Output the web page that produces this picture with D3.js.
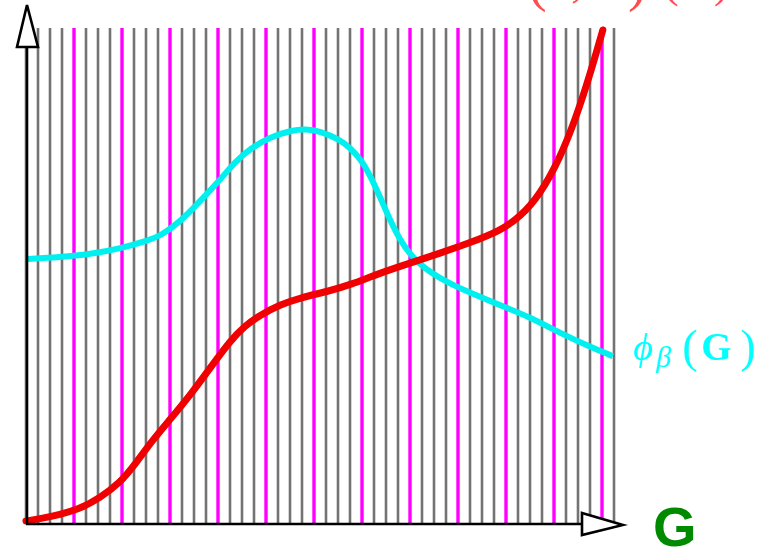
<!DOCTYPE html>
<html>
<head>
<meta charset="utf-8">
<script src="https://cdn.jsdelivr.net/npm/d3@7"></script>
<style>
  html, body { margin: 0; padding: 0; background: #fff; }
  svg { display: block; }
</style>
</head>
<body>
<svg id="chart" width="769" height="551"></svg>
<script>
// Vertical stripe grid: 50 stripes, every 4th one highlighted
const stripeCount = 50;
const accentEvery = 4;

// Rising curve (red)
const redX = [0, 4.1, 9.2, 12.6, 16, 18.7, 21.3, 24.7, 28.1, 31.3, 34.7, 37.2, 39.8, 43.2, 46.6, 51.7, 55.1, 60.2, 65.3, 70.4, 75.5, 80.6, 84, 87.4, 90.8, 93.4, 95.9, 98.1];
const redY = [0.4, 1.2, 2.8, 5.1, 8.1, 12.1, 16.4, 21.2, 26.1, 31.3, 36.8, 39.8, 42, 44.1, 45.5, 46.9, 48.1, 50.5, 52.5, 54.5, 56.6, 59, 61.8, 66.3, 73.7, 81.4, 90.5, 99.6];

// Bump-shaped curve phi_beta(G) (cyan)
const cyanX = [0, 5.8, 10.9, 16, 21.1, 22.8, 26.2, 29.6, 33, 35.5, 38.1, 41.5, 45.4, 47.4, 50, 53.4, 55.1, 56.8, 58.5, 60.2, 61.9, 63.6, 65.3, 67, 68.7, 72.1, 77.2, 80.6, 85.7, 90.8, 95.9, 99.8];
const cyanY = [53.3, 53.7, 54.3, 55.4, 57.2, 58, 60.8, 65, 69.3, 72.9, 75.6, 78, 79.4, 79.6, 79.2, 77.4, 75.8, 73.7, 70.3, 65.9, 61.2, 57.2, 54.3, 52.3, 50.7, 48.3, 45.7, 44, 41.6, 38.4, 35.6, 33.7];

const svg = d3.select("#chart");

const plotLeft = 26, plotRight = 614, plotTop = 28, plotBottom = 523;
const x = d3.scaleLinear().domain([0, 100]).range([plotLeft, plotRight]);
const y = d3.scaleLinear().domain([0, 100]).range([plotBottom, plotTop]);
const stripeX = d3.scaleLinear().domain([0, stripeCount - 1]).range([plotLeft, plotRight]);

// stripes
const stripes = d3.range(stripeCount);
const isAccent = d => d > 0 && d % accentEvery === 0;
svg.append("g").selectAll("line")
  .data(stripes)
  .join("line")
  .attr("x1", d => stripeX(d))
  .attr("x2", d => stripeX(d))
  .attr("y1", plotTop)
  .attr("y2", plotBottom)
  .attr("stroke", d => isAccent(d) ? "#ff00ff" : "#737373")
  .attr("stroke-width", d => isAccent(d) ? 3.4 : 2.6);

// curves (B-spline through the sampled points for a smooth stroke)
const toPts = (xs, ys) => xs.map((v, i) => [v, ys[i]]);
const line = d3.line().x(d => x(d[0])).y(d => y(d[1])).curve(d3.curveBasis);

svg.append("path")
  .attr("d", line(toPts(cyanX, cyanY)))
  .attr("fill", "none")
  .attr("stroke", "#00f0f0")
  .attr("stroke-width", 6)
  .attr("stroke-linecap", "butt");

svg.append("path")
  .attr("d", line(toPts(redX, redY)))
  .attr("fill", "none")
  .attr("stroke", "#f00000")
  .attr("stroke-width", 7)
  .attr("stroke-linecap", "round");

// axes with hollow arrowheads
const axis = svg.append("g").attr("stroke", "#000").attr("stroke-width", 2.6).attr("fill", "#fff");
axis.append("line").attr("x1", plotLeft + 1).attr("x2", plotLeft + 1).attr("y1", plotBottom + 1).attr("y2", 47);
axis.append("line").attr("x1", plotLeft).attr("x2", 582).attr("y1", plotBottom + 1).attr("y2", plotBottom + 1);
axis.append("path").attr("d", "M27,5 L17,47 L38,47 Z").attr("stroke-linejoin", "miter");
axis.append("path").attr("d", `M623,${plotBottom + 2} L582,513 L582,535 Z`).attr("stroke-linejoin", "miter");

// labels
svg.append("text")
  .attr("x", 653).attr("y", 546)
  .attr("font-family", "Liberation Sans, Arial, sans-serif")
  .attr("font-weight", "bold")
  .attr("font-size", 56)
  .attr("fill", "#008a00")
  .text("G");

const phi = svg.append("text")
  .attr("y", 360)
  .attr("font-family", "Liberation Serif, DejaVu Serif, serif")
  .attr("font-size", 36)
  .attr("fill", "#00ffff");
phi.append("tspan").attr("x", 633).attr("font-style", "italic").attr("font-size", 38).text("ϕ");
phi.append("tspan").attr("x", 656).attr("dy", 7).attr("font-style", "italic").attr("font-size", 30).text("β");
phi.append("tspan").attr("x", 682).attr("dy", -5).attr("font-size", 46).text("(");
phi.append("tspan").attr("x", 701).attr("dy", -2).attr("font-weight", "bold").attr("font-size", 39).text("G");
phi.append("tspan").attr("x", 740).attr("dy", 2).attr("font-size", 46).text(")");

// label of the red curve, running off the top edge
const curveLabel = svg.append("text")
  .attr("y", -3)
  .attr("font-family", "Liberation Serif, DejaVu Serif, serif")
  .attr("font-size", 44)
  .attr("fill", "#ff2020")
  .attr("opacity", 0.8);
curveLabel.append("tspan").attr("x", 528).attr("dy", 3).attr("font-size", 56).text("(");
curveLabel.append("tspan").attr("x", 552).attr("dy", -3).attr("font-style", "italic").text("x,");
curveLabel.append("tspan").attr("x", 588).attr("font-weight", "bold").text("G");
curveLabel.append("tspan").attr("x", 628).attr("dy", 3).attr("font-size", 56).text(")");
curveLabel.append("tspan").attr("x", 664).attr("dy", -3).text("(");
curveLabel.append("tspan").attr("x", 680).attr("font-style", "italic").text("x");
curveLabel.append("tspan").attr("x", 714).text(")");
</script>
</body>
</html>
